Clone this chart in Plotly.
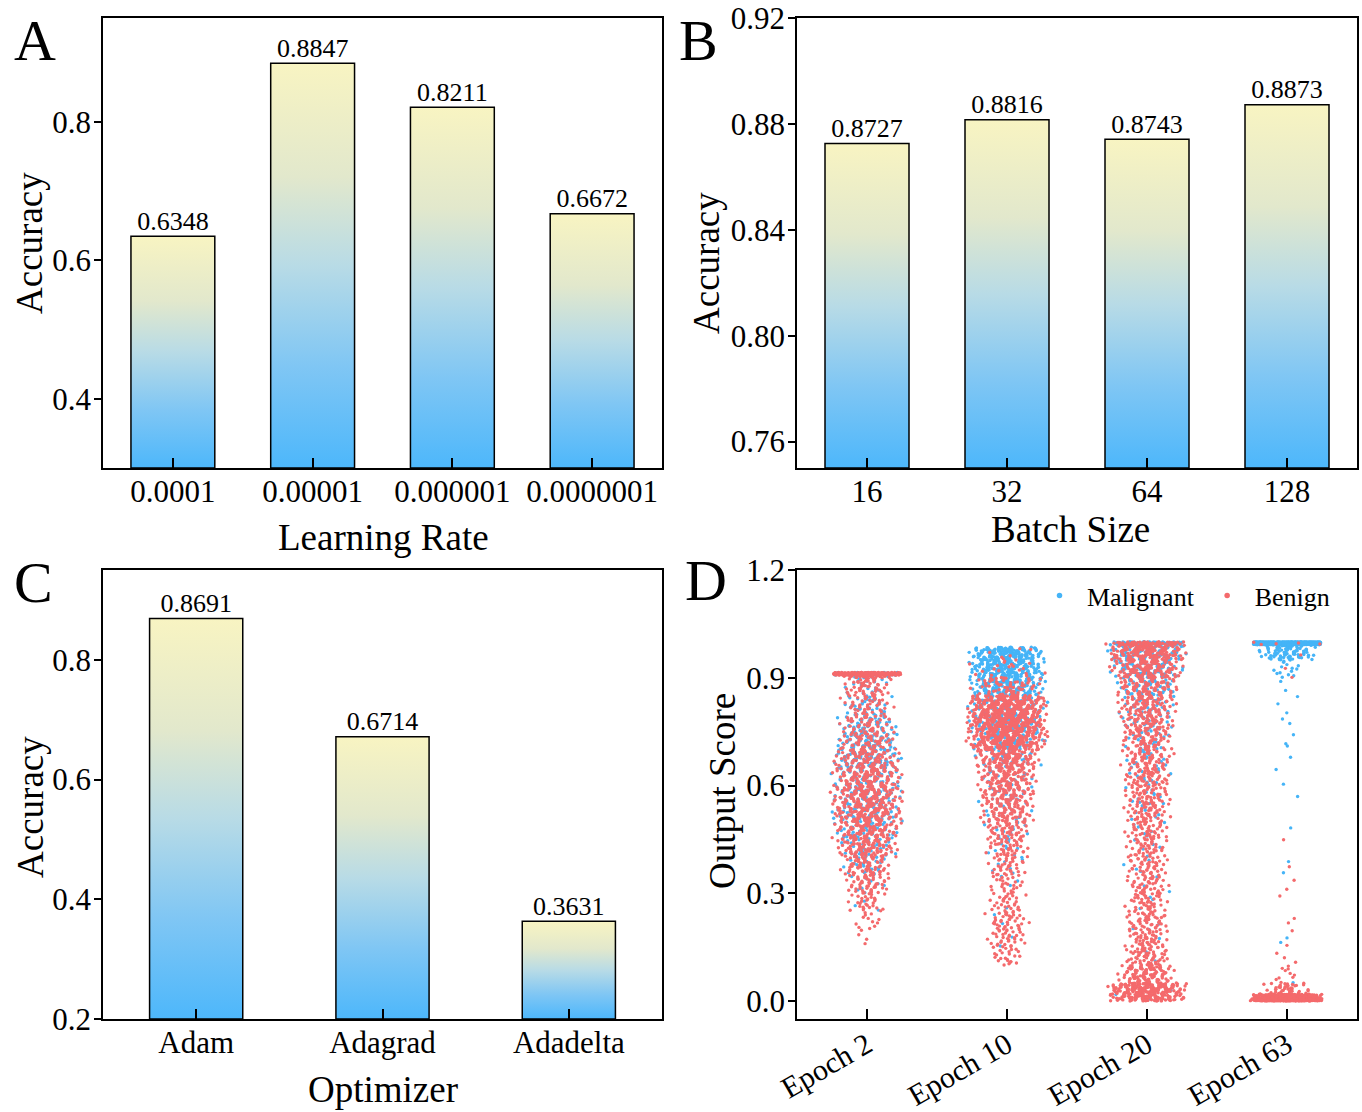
import plotly.graph_objects as go

FONT = "Liberation Serif"

# ---------------- data ----------------
lr_labels = ["0.0001", "0.00001", "0.000001", "0.0000001"]
lr_acc = [0.6348, 0.8847, 0.8211, 0.6672]

bs_labels = ["16", "32", "64", "128"]
bs_acc = [0.8727, 0.8816, 0.8743, 0.8873]

opt_labels = ["Adam", "Adagrad", "Adadelta"]
opt_acc = [0.8691, 0.6714, 0.3631]

epoch_labels = ["Epoch 2", "Epoch 10", "Epoch 20", "Epoch 63"]
# output-score histogram bins
score_bin_edges = [0.00, 0.05, 0.10, 0.15, 0.20, 0.25, 0.30, 0.35, 0.40, 0.45, 0.50,
                   0.55, 0.60, 0.65, 0.70, 0.75, 0.80, 0.85, 0.90, 0.95, 1.00]
benign_e2 = [0, 0, 0, 4, 12, 30, 50, 70, 110, 140, 150, 150, 130, 100, 70, 50, 45, 55, 60, 0]
malig_e2 = [0, 0, 0, 0, 0, 3, 8, 20, 40, 60, 90, 90, 100, 110, 100, 70, 40, 20, 15, 0]
benign_e10 = [0, 0, 25, 35, 40, 30, 25, 35, 45, 60, 80, 100, 110, 150, 300, 400, 350, 70, 20, 6]
malig_e10 = [0, 0, 0, 2, 2, 1, 3, 6, 10, 15, 20, 25, 25, 40, 70, 80, 120, 200, 260, 230]
benign_e20 = [350, 120, 60, 55, 50, 45, 45, 45, 45, 50, 55, 60, 65, 70, 75, 85, 95, 110, 150, 250]
malig_e20 = [3, 1, 2, 2, 3, 3, 3, 4, 5, 6, 8, 10, 12, 15, 20, 30, 40, 60, 100, 200]
benign_e63 = [70, 10, 3, 2, 2, 1, 2, 1, 1, 0, 0, 0, 0, 0, 0, 0, 0, 0, 2, 1]
malig_e63 = [0, 1, 0, 2, 0, 0, 0, 2, 0, 1, 0, 1, 2, 1, 3, 2, 3, 2, 15, 120]
score_max = [0.915, 0.985, 1.0, 1.0]        # saturation value per epoch
benign_at_max = [150, 0, 30, 5]
malig_at_max = [30, 0, 80, 500]
benign_at_zero = [0, 0, 0, 600]
malig_at_zero = [0, 0, 0, 0]

# ---------------- style ----------------
GRAD = [[0.0, "#4db7fb"], [0.25, "#7fc6f4"], [0.5, "#b8dbe6"],
        [0.72, "#e2e8cc"], [1.0, "#f8f4c2"]]
BLUE = "#45b4f7"
RED = "#f46a6c"

W, H = 1362, 1112


def px(x):
    return x / W


def py(y):
    return 1 - y / H


def dom_x(a, b):
    return [px(a), px(b)]


def dom_y(top, bottom):
    return [py(bottom), py(top)]


fig = go.Figure()


def add_bars(vals, base, width, xa, ya):
    for i, v in enumerate(vals):
        x0, x1 = i - width / 2, i + width / 2
        fig.add_trace(go.Scatter(
            x=[x0, x0, x1, x1, x0], y=[base, v, v, base, base],
            mode="lines", fill="toself",
            fillgradient=dict(type="vertical", colorscale=GRAD, start=base, stop=v),
            line=dict(color="black", width=1.5),
            xaxis=xa, yaxis=ya, showlegend=False, hoverinfo="skip"))
    fig.add_trace(go.Scatter(
        x=list(range(len(vals))), y=vals, mode="text",
        text=[f"{v:.4f}" for v in vals], textposition="top center",
        textfont=dict(family=FONT, size=26, color="black"),
        xaxis=xa, yaxis=ya, showlegend=False, hoverinfo="skip"))


A_RANGE = [0.3, 0.95]
B_RANGE = [0.75, 0.9201]
C_RANGE = [0.2, 0.95]
D_RANGE = [-0.05, 1.2]

add_bars(lr_acc, A_RANGE[0], 0.6, "x", "y")
add_bars(bs_acc, B_RANGE[0], 0.6, "x2", "y2")
add_bars(opt_acc, C_RANGE[0], 0.5, "x3", "y3")

# ---------------- strip plot (panel D) ----------------


def halton(i, base):
    f, r = 1.0, 0.0
    while i > 0:
        f /= base
        r += f * (i % base)
        i //= base
    return r


def strip(idx, counts, other, top, n_max, n_zero, seed):
    xs, ys = [], []
    k = seed
    for b in range(len(counts)):
        n = counts[b]
        if n == 0:
            continue
        lo, hi = score_bin_edges[b], min(score_bin_edges[b + 1], top)
        tot = n + other[b]
        w = 0.08 + 0.22 * min(1.0, tot / 300.0) ** 0.5
        for j in range(n):
            k += 1
            u1, u2, u3 = halton(k, 3), halton(k, 5), halton(k, 2)
            xs.append(idx + w * (u1 + u2 - 1))
            ys.append(lo + (hi - lo) * u3)
    for j in range(n_max):
        k += 1
        u1, u2 = halton(k, 3), halton(k, 2)
        xs.append(idx + 0.24 * (2 * u1 - 1))
        ys.append(top - 0.008 * u2)
    for j in range(n_zero):
        k += 1
        u1, u2, u3 = halton(k, 3), halton(k, 5), halton(k, 2)
        xs.append(idx + 0.27 * (2 * u1 - 1) * (0.55 + 0.45 * u2))
        ys.append(0.001 + 0.018 * u3 * u3)
    return xs, ys


benign_all = [benign_e2, benign_e10, benign_e20, benign_e63]
malig_all = [malig_e2, malig_e10, malig_e20, malig_e63]
mx, my, bx, by = [], [], [], []
for i in range(4):
    x, y = strip(i, malig_all[i], benign_all[i], score_max[i], malig_at_max[i],
                 malig_at_zero[i], 1000 * i + 7)
    mx += x
    my += y
    x, y = strip(i, benign_all[i], malig_all[i], score_max[i], benign_at_max[i],
                 benign_at_zero[i], 1000 * i + 5003)
    bx += x
    by += y

fig.add_trace(go.Scatter(x=mx, y=my, mode="markers", name="Malignant",
                         marker=dict(color=BLUE, size=3.4, line=dict(width=0)),
                         xaxis="x4", yaxis="y4", hoverinfo="skip", showlegend=False))
fig.add_trace(go.Scatter(x=bx, y=by, mode="markers", name="Benign",
                         marker=dict(color=RED, size=3.4, line=dict(width=0)),
                         xaxis="x4", yaxis="y4", hoverinfo="skip", showlegend=False))
# legend entries (slightly larger symbol than the tiny points)
for nm, col in [("Malignant", BLUE), ("Benign", RED)]:
    fig.add_trace(go.Scatter(x=[None], y=[None], mode="markers", name=nm,
                             marker=dict(color=col, size=5.5, line=dict(width=0)),
                             xaxis="x4", yaxis="y4", hoverinfo="skip"))

# ---------------- axes ----------------
tickfont = dict(family=FONT, size=31, color="black")
titlefont = dict(family=FONT, size=37, color="black")
base_ax = dict(showline=True, linecolor="black", linewidth=1.5, mirror=True,
               showgrid=False, zeroline=False, tickfont=tickfont, automargin=False,
               tickcolor="black", tickwidth=1.5, ticklabeloverflow="allow")
xax = dict(base_ax, ticks="inside", ticklen=10, tickmode="array",
           ticklabelstandoff=-5)
yax = dict(base_ax, ticks="outside", ticklen=7, ticklabelstandoff=-3)

left_x = dom_x(103, 662)
right_x = dom_x(797, 1357)
top_y = dom_y(18, 468)
bot_y = dom_y(570, 1019)

fig.update_layout(
    template="none",
    width=W, height=H, margin=dict(l=0, r=0, t=0, b=0, autoexpand=False),
    paper_bgcolor="white", plot_bgcolor="white",
    font=dict(family=FONT, color="black"),
    hovermode=False,
    xaxis=dict(xax, domain=left_x, anchor="y", range=[-0.5, 3.5],
               tickvals=list(range(4)), ticktext=lr_labels),
    yaxis=dict(yax, domain=top_y, anchor="x", range=A_RANGE,
               tickvals=[0.4, 0.6, 0.8], tickformat=".1f"),
    xaxis2=dict(xax, domain=right_x, anchor="y2", range=[-0.5, 3.5],
                tickvals=list(range(4)), ticktext=bs_labels),
    yaxis2=dict(yax, domain=top_y, anchor="x2", range=B_RANGE,
                tickvals=[0.76, 0.80, 0.84, 0.88, 0.92], tickformat=".2f"),
    xaxis3=dict(xax, domain=left_x, anchor="y3", range=[-0.5, 2.5],
                tickvals=list(range(3)), ticktext=opt_labels),
    yaxis3=dict(yax, domain=bot_y, anchor="x3", range=C_RANGE,
                tickvals=[0.2, 0.4, 0.6, 0.8], tickformat=".1f"),
    xaxis4=dict(xax, domain=right_x, anchor="y4", range=[-0.5, 3.5],
                tickvals=list(range(4)), ticktext=epoch_labels, tickangle=-30,
                tickfont=dict(family=FONT, size=30, color="black")),
    yaxis4=dict(yax, domain=bot_y, anchor="x4", range=D_RANGE,
                tickvals=[0.0, 0.3, 0.6, 0.9, 1.2], tickformat=".1f"),
    legend=dict(orientation="h", x=px(1032), y=py(572), xanchor="left",
                yanchor="top", bgcolor="rgba(0,0,0,0)", borderwidth=0,
                font=dict(family=FONT, size=26, color="black"),
                itemwidth=45, tracegroupgap=0),
    showlegend=True,
)

# axis titles (text, centre x, centre y, angle)
axis_titles = [("Learning Rate", 383, 537, 0), ("Accuracy", 30, 243, -90),
               ("Batch Size", 1070, 529, 0), ("Accuracy", 707, 263, -90),
               ("Optimizer", 383, 1089, 0), ("Accuracy", 30, 807, -90),
               ("Output Score", 722, 791, -90)]
for t, cx, cy, ang in axis_titles:
    fig.add_annotation(text=t, x=px(cx), y=py(cy), xref="paper", yref="paper",
                       showarrow=False, xanchor="center", yanchor="middle",
                       textangle=ang, font=titlefont)

letters = [("A", 35, 40), ("B", 698, 40), ("C", 33, 582), ("D", 706, 580)]
for t, lx, ly in letters:
    fig.add_annotation(text=t, x=px(lx), y=py(ly), xref="paper", yref="paper",
                       showarrow=False, xanchor="center", yanchor="middle",
                       font=dict(family=FONT, size=58, color="black"))

fig.write_html("out.html", config={"displayModeBar": False},
               post_script="document.body.style.margin='0';"
                           "document.body.style.overflow='hidden';")
